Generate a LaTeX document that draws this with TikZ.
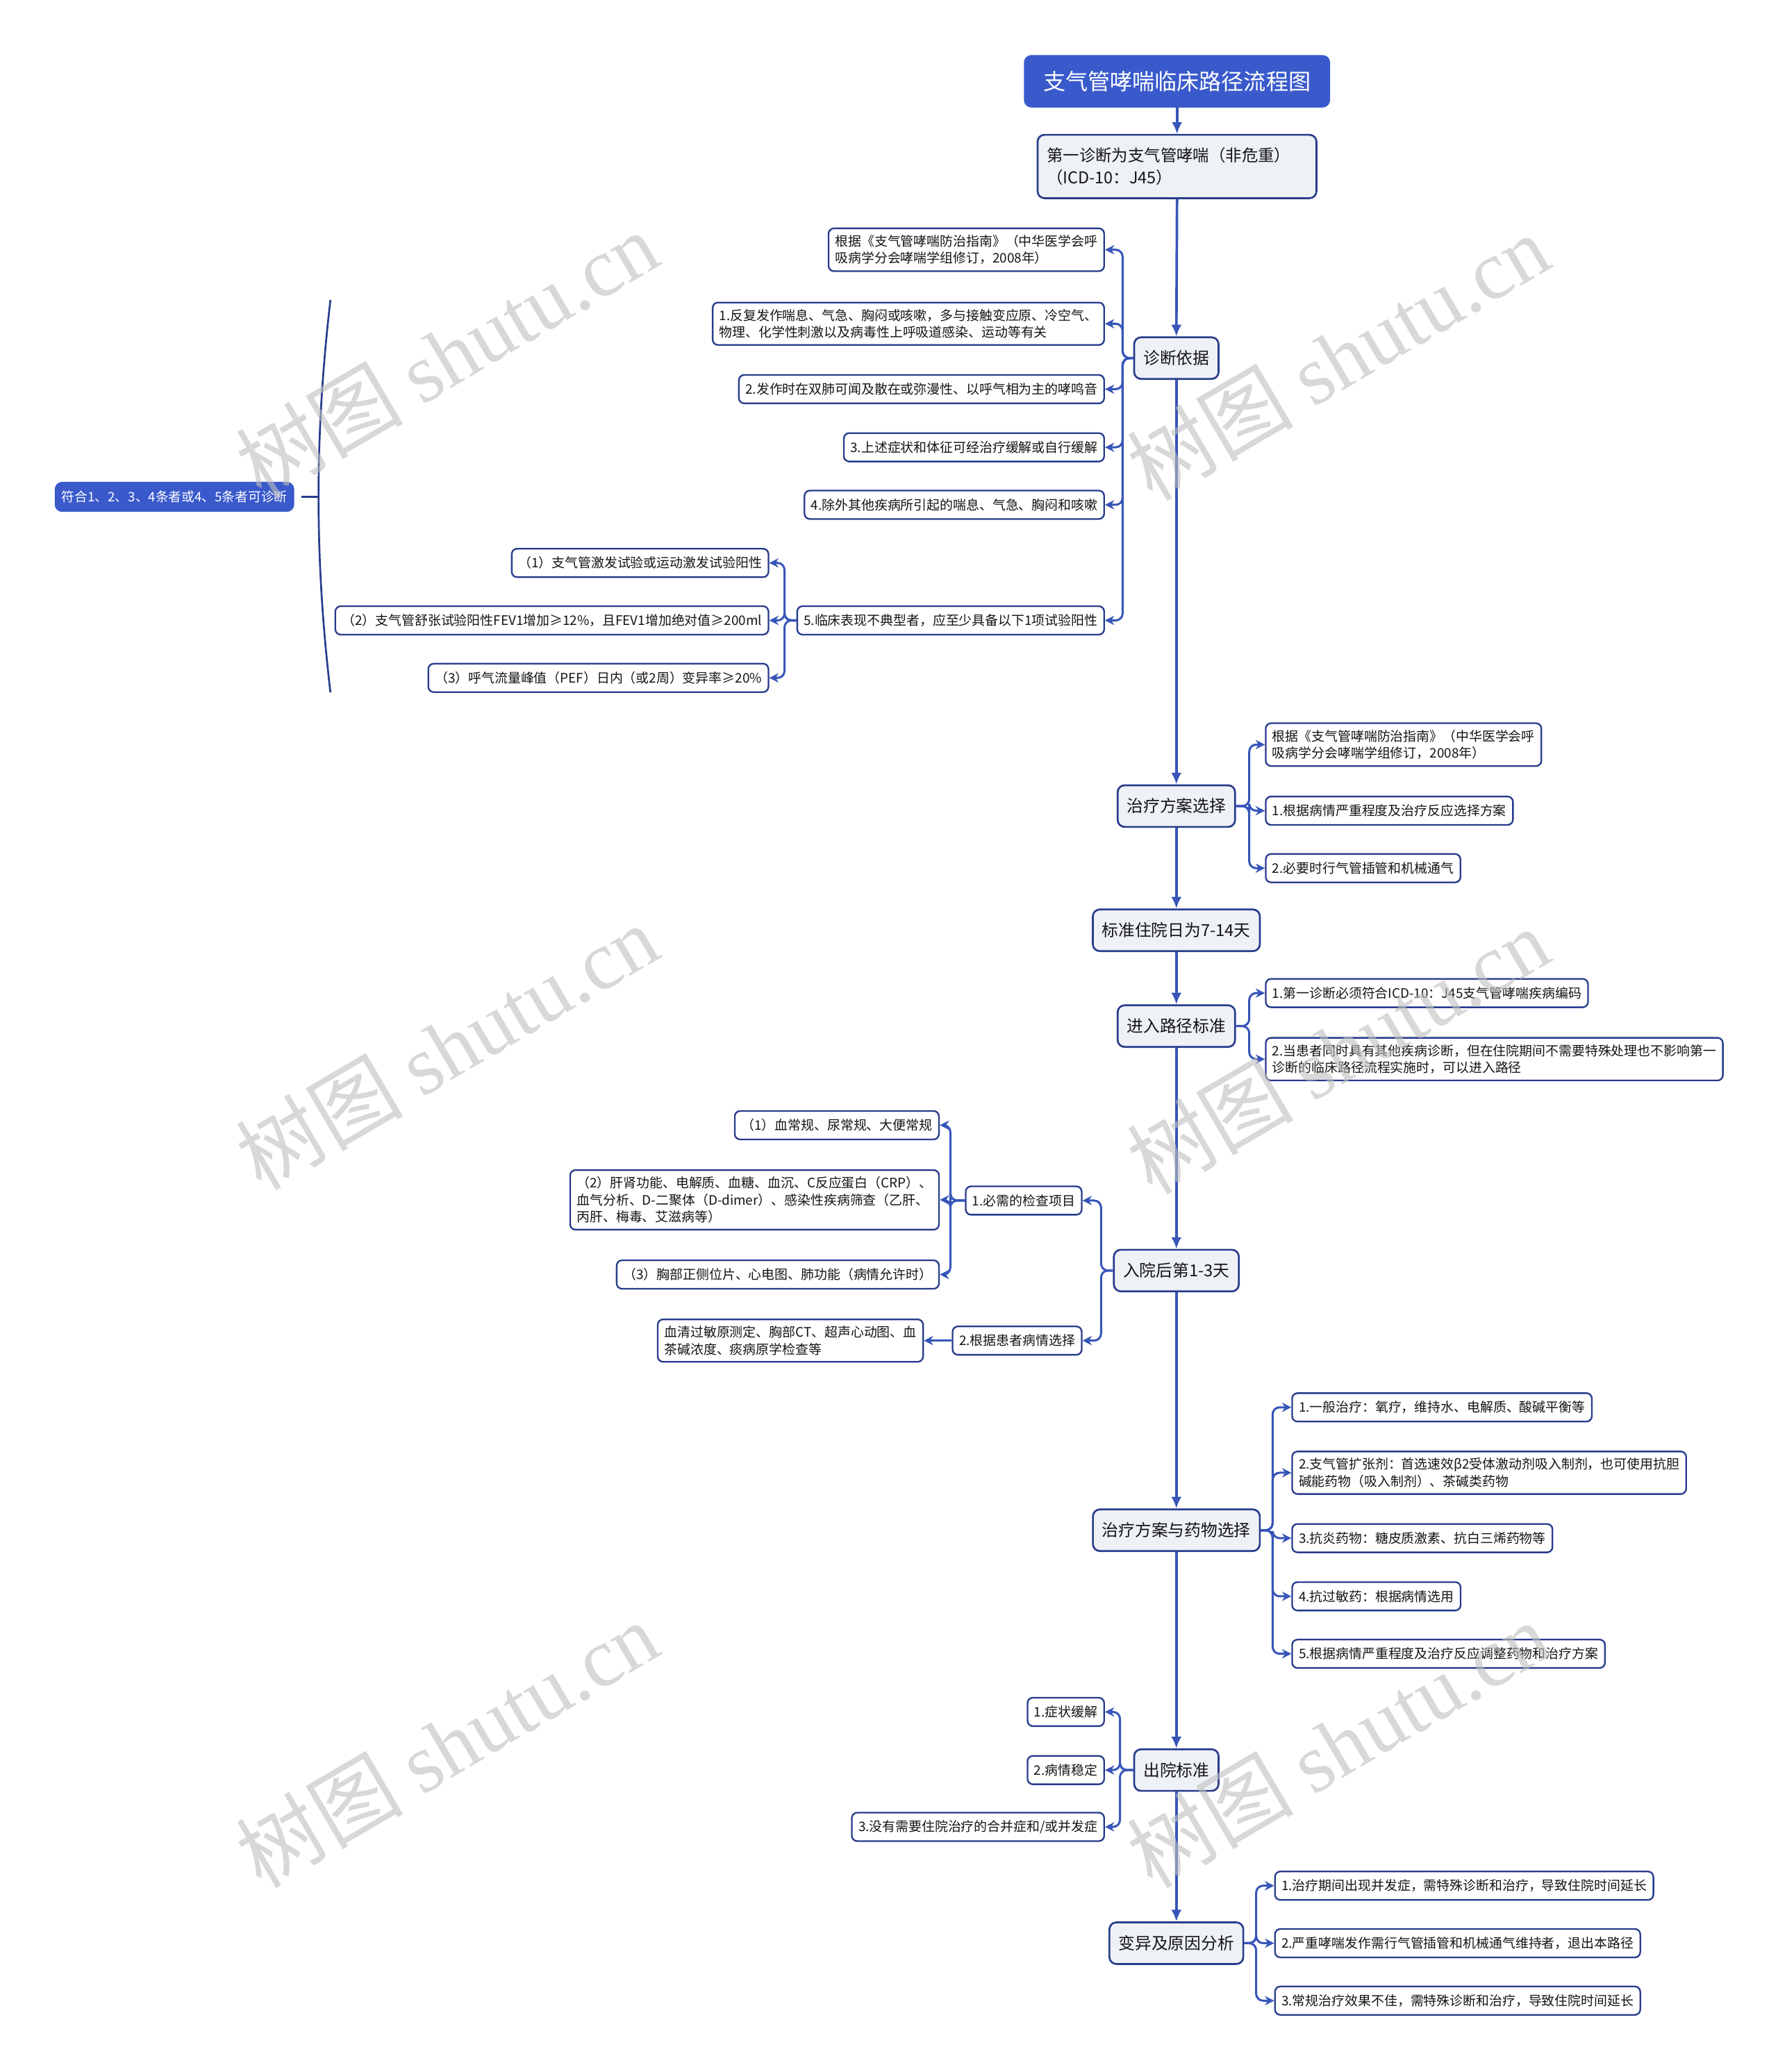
\documentclass[tikz,border=0pt]{standalone}
\usepackage{fontspec}
\setmainfont{Noto Sans CJK SC}
\newfontfamily\wmlat{Liberation Serif}
\usetikzlibrary{arrows.meta}
\definecolor{tblue}{RGB}{58,90,204}
\definecolor{lblue}{RGB}{55,85,185}
\definecolor{navy}{RGB}{40,60,140}
\definecolor{mfill}{RGB}{238,241,246}
\definecolor{txt}{RGB}{20,20,20}
\definecolor{wmgray}{RGB}{190,190,190}
\tikzset{
  subbox/.style={draw=navy, line width=0.7pt, fill=white, rounded corners=2.3pt,
    inner xsep=0.1cm, inner ysep=0.1cm, minimum height=0.43cm,
    font=\fontsize{5.65pt}{7.3pt}\selectfont, align=left, text=txt},
  mainbox/.style={draw=navy, line width=0.8pt, fill=mfill, rounded corners=3pt,
    inner xsep=0.14cm, minimum height=0.63cm,
    font=\fontsize{7.1pt}{9pt}\selectfont, text=txt},
  bluebox/.style={fill=tblue, draw=tblue, rounded corners=3pt, text=white},
  spine/.style={draw=lblue, line width=1.1pt, -{Latex[length=5pt,width=4.5pt]}},
  branch/.style={draw=lblue, line width=0.9pt, rounded corners=3pt, -{Stealth[length=4pt,width=4pt]}},
  wm/.style={text=wmgray, text opacity=0.6, font=\fontsize{36pt}{40pt}\selectfont, rotate=30.4, inner sep=0pt},
}
\begin{document}
\begin{tikzpicture}[x=0.02cm,y=-0.02cm]
\useasboundingbox (0,0) rectangle (1345,1568);
\fill[white] (0,0) rectangle (1345,1568);

% ---- spine ----
\node[bluebox, minimum width=4.62cm, minimum height=0.78cm, font=\fontsize{9.6pt}{11pt}\selectfont] (t) at (890.5,61.5) {支气管哮喘临床路径流程图};
\node[mainbox, text width=3.94cm, align=left, minimum height=0.96cm, font=\fontsize{7pt}{9.7pt}\selectfont] (a) at (890.5,126) {第一诊断为支气管哮喘（非危重）\\（ICD-10：J45）};
\node[mainbox] (zd) at (890,271) {诊断依据};
\node[mainbox] (zl) at (890,610) {治疗方案选择};
\node[mainbox] (zy) at (890,704) {标准住院日为7-14天};
\node[mainbox] (jr) at (890,776.5) {进入路径标准};
\node[mainbox] (ry) at (890,961.5) {入院后第1-3天};
\node[mainbox] (yw) at (890,1158) {治疗方案与药物选择};
\node[mainbox] (cy) at (890,1339.5) {出院标准};
\node[mainbox] (by) at (890,1470.5) {变异及原因分析};

\draw[spine] (t.south) -- (a.north);
\draw[spine] (a.south) -- (zd.north);
\draw[spine] (zd.south) -- (zl.north);
\draw[spine] (zl.south) -- (zy.north);
\draw[spine] (zy.south) -- (jr.north);
\draw[spine] (jr.south) -- (ry.north);
\draw[spine] (ry.south) -- (yw.north);
\draw[spine] (yw.south) -- (cy.north);
\draw[spine] (cy.south) -- (by.north);

% ---- 诊断依据 ----
\node[subbox, anchor=east] (z0) at (836,189) {根据《支气管哮喘防治指南》（中华医学会呼\\吸病学分会哮喘学组修订，2008年）};
\node[subbox, anchor=east] (z1) at (836,245) {1.反复发作喘息、气急、胸闷或咳嗽，多与接触变应原、冷空气、\\物理、化学性刺激以及病毒性上呼吸道感染、运动等有关};
\node[subbox, anchor=east] (z2) at (836,294.5) {2.发作时在双肺可闻及散在或弥漫性、以呼气相为主的哮鸣音};
\node[subbox, anchor=east] (z3) at (836,338.5) {3.上述症状和体征可经治疗缓解或自行缓解};
\node[subbox, anchor=east] (z4) at (836,382) {4.除外其他疾病所引起的喘息、气急、胸闷和咳嗽};
\node[subbox, anchor=east] (z5) at (836,469.5) {5.临床表现不典型者，应至少具备以下1项试验阳性};
\foreach \c in {z0,z1,z2,z3,z4,z5}{\draw[branch] (zd.west) -- ++(-8,0) |- (\c.east);}

\node[subbox, anchor=east] (z51) at (582,426) {（1）支气管激发试验或运动激发试验阳性};
\node[subbox, anchor=east] (z52) at (582,469.5) {（2）支气管舒张试验阳性FEV1增加≥12\%，且FEV1增加绝对值≥200ml};
\node[subbox, anchor=east] (z53) at (582,513) {（3）呼气流量峰值（PEF）日内（或2周）变异率≥20\%};
\foreach \c in {z51,z52,z53}{\draw[branch] (z5.west) -- ++(-9,0) |- (\c.east);}

\node[bluebox, inner xsep=0.1cm, minimum height=0.44cm, font=\fontsize{5.6pt}{7.1pt}\selectfont] (ln) at (132,376) {符合1、2、3、4条者或4、5条者可诊断};
\coordinate (bk) at (241,376);
\draw[navy, line width=0.8pt] (250,227) .. controls (238,330) and (238,422) .. (250,524);
\draw[navy, line width=0.8pt, shorten <=3pt] (ln.east) -- (bk);

% ---- 治疗方案选择 ----
\node[subbox, anchor=west] (zl0) at (957,563.5) {根据《支气管哮喘防治指南》（中华医学会呼\\吸病学分会哮喘学组修订，2008年）};
\node[subbox, anchor=west] (zl1) at (957,613.5) {1.根据病情严重程度及治疗反应选择方案};
\node[subbox, anchor=west] (zl2) at (957,657) {2.必要时行气管插管和机械通气};
\foreach \c in {zl0,zl1,zl2}{\draw[branch] (zl.east) -- ++(10,0) |- (\c.west);}

% ---- 进入路径标准 ----
\node[subbox, anchor=west] (jr1) at (957,751.5) {1.第一诊断必须符合ICD-10：J45支气管哮喘疾病编码};
\node[subbox, anchor=west] (jr2) at (957,801.5) {2.当患者同时具有其他疾病诊断，但在住院期间不需要特殊处理也不影响第一\\诊断的临床路径流程实施时，可以进入路径};
\foreach \c in {jr1,jr2}{\draw[branch] (jr.east) -- ++(10,0) |- (\c.west);}

% ---- 入院后第1-3天 ----
\node[subbox, anchor=east] (ry1) at (819,908.5) {1.必需的检查项目};
\node[subbox, anchor=east] (ry2) at (819,1014.5) {2.根据患者病情选择};
\foreach \c in {ry1,ry2}{\draw[branch] (ry.west) -- ++(-9,0) |- (\c.east);}
\node[subbox, anchor=east] (ry11) at (711,851.5) {（1）血常规、尿常规、大便常规};
\node[subbox, anchor=east] (ry12) at (711,908) {（2）肝肾功能、电解质、血糖、血沉、C反应蛋白（CRP）、\\血气分析、D-二聚体（D-dimer）、感染性疾病筛查（乙肝、\\丙肝、梅毒、艾滋病等）};
\node[subbox, anchor=east] (ry13) at (711,964.5) {（3）胸部正侧位片、心电图、肺功能（病情允许时）};
\foreach \c in {ry11,ry12,ry13}{\draw[branch] (ry1.west) -- ++(-11,0) |- (\c.east);}
\node[subbox, anchor=east] (ry21) at (699,1014.5) {血清过敏原测定、胸部CT、超声心动图、血\\茶碱浓度、痰病原学检查等};
\draw[branch] (ry2.west) -- (ry21.east);

% ---- 治疗方案与药物选择 ----
\node[subbox, anchor=west] (yw1) at (977,1065) {1.一般治疗：氧疗，维持水、电解质、酸碱平衡等};
\node[subbox, anchor=west] (yw2) at (977,1114.5) {2.支气管扩张剂：首选速效β2受体激动剂吸入制剂，也可使用抗胆\\碱能药物（吸入制剂）、茶碱类药物};
\node[subbox, anchor=west] (yw3) at (977,1164) {3.抗炎药物：糖皮质激素、抗白三烯药物等};
\node[subbox, anchor=west] (yw4) at (977,1208) {4.抗过敏药：根据病情选用};
\node[subbox, anchor=west] (yw5) at (977,1251.5) {5.根据病情严重程度及治疗反应调整药物和治疗方案};
\foreach \c in {yw1,yw2,yw3,yw4,yw5}{\draw[branch] (yw.east) -- ++(9,0) |- (\c.west);}

% ---- 出院标准 ----
\node[subbox, anchor=east] (cy1) at (836,1295.5) {1.症状缓解};
\node[subbox, anchor=east] (cy2) at (836,1339.5) {2.病情稳定};
\node[subbox, anchor=east] (cy3) at (836,1382.5) {3.没有需要住院治疗的合并症和/或并发症};
\foreach \c in {cy1,cy2,cy3}{\draw[branch] (cy.west) -- ++(-10,0) |- (\c.east);}

% ---- 变异及原因分析 ----
\node[subbox, anchor=west] (by1) at (964,1427) {1.治疗期间出现并发症，需特殊诊断和治疗，导致住院时间延长};
\node[subbox, anchor=west] (by2) at (964,1470.5) {2.严重哮喘发作需行气管插管和机械通气维持者，退出本路径};
\node[subbox, anchor=west] (by3) at (964,1514) {3.常规治疗效果不佳，需特殊诊断和治疗，导致住院时间延长};
\foreach \c in {by1,by2,by3}{\draw[branch] (by.east) -- ++(9,0) |- (\c.west);}

% ---- watermarks ----
\node[wm] (w1) at (338,268) {树图 {\wmlat shutu.cn}};
\node[wm] (w2) at (1012,270) {树图 {\wmlat shutu.cn}};
\node[wm] (w3) at (338,792) {树图 {\wmlat shutu.cn}};
\node[wm] (w4) at (1012,795) {树图 {\wmlat shutu.cn}};
\node[wm] (w5) at (338,1320) {树图 {\wmlat shutu.cn}};
\node[wm] (w6) at (1012,1320) {树图 {\wmlat shutu.cn}};
\end{tikzpicture}
\end{document}
